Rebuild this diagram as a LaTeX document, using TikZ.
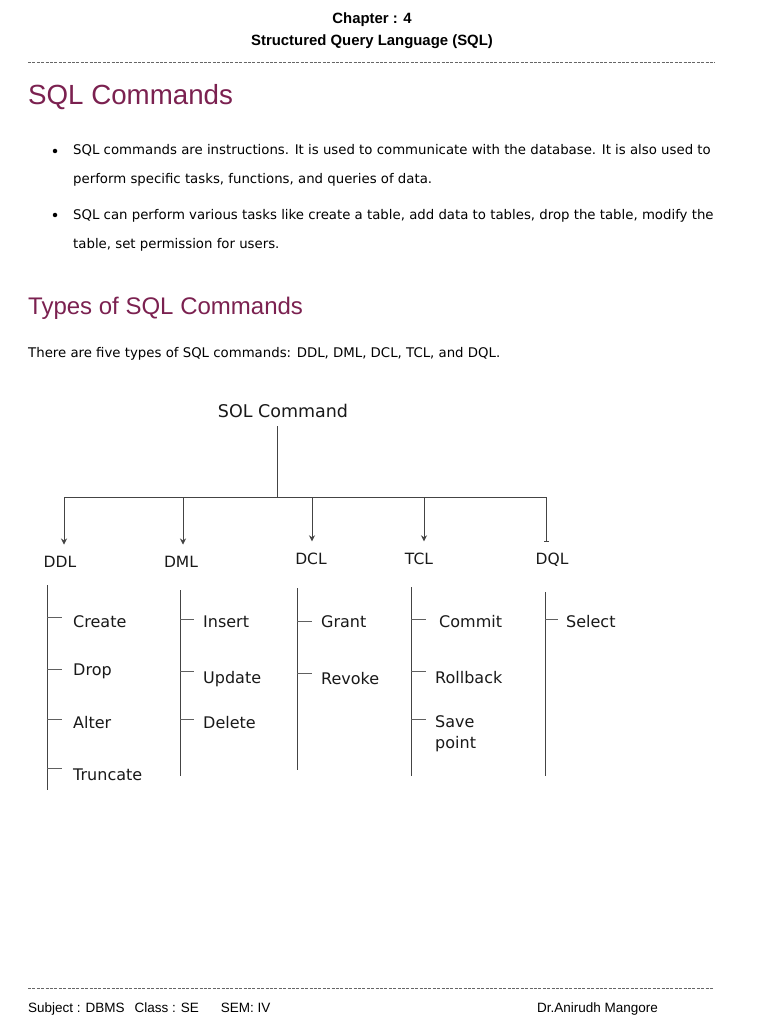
\documentclass[tikz,border=0pt]{standalone}
\usepackage{fontspec}
\setmainfont{DejaVu Sans}
\newfontfamily\headfont{Liberation Sans}
\usetikzlibrary{arrows.meta}
\definecolor{Maroon}{HTML}{7B2150}
\definecolor{RuleGray}{HTML}{666666}
\definecolor{TreeInk}{HTML}{444444}
\tikzset{
  headtext/.style={anchor=base,inner sep=0pt,font=\headfont\fontsize{14.9}{17}\selectfont\bfseries},
  titletext/.style={anchor=base west,inner sep=0pt,text=Maroon,font=\headfont\fontsize{27.7}{32}\selectfont},
  subtitletext/.style={anchor=base west,inner sep=0pt,text=Maroon,font=\headfont\fontsize{24}{28}\selectfont},
  bodytext/.style={anchor=base west,inner sep=0pt,text=black,font=\fontsize{13.3}{16}\selectfont},
  foottext/.style={anchor=base west,inner sep=0pt,font=\headfont\fontsize{13.5}{16}\selectfont},
  roottext/.style={anchor=base,inner sep=0pt,text=black!90,font=\fontsize{17.5}{20}\selectfont},
  treetext/.style={anchor=base,inner sep=0pt,text=black!90,font=\fontsize{15.5}{18}\selectfont},
  itemtext/.style={anchor=base west,inner sep=0pt,text=black!90,align=left,font=\fontsize{16}{21}\selectfont},
  ruleline/.style={line width=0.6pt,draw=RuleGray,dash pattern=on 3pt off 1.4pt},
  treeline/.style={line width=0.9pt,draw=TreeInk},
  tickline/.style={line width=0.9pt,draw=TreeInk!85},
  treearrow/.style={-{Stealth[length=6pt,width=6pt]},line width=0.8pt,draw=TreeInk,shorten >=11pt},
  treetee/.style={-{Bar[width=5pt]},line width=0.8pt,draw=TreeInk,shorten >=11pt},
  bulletdot/.style={circle,fill=black,inner sep=0pt,minimum size=4.5pt},
}

\begin{document}
\begin{tikzpicture}[x=1pt,y=-1pt]
    \useasboundingbox[fill=white] (0,0) rectangle (768,1024);

    % page header
    \node[headtext] (chap) at (372,24) {Chapter : 4};
    \node[headtext] (chaptitle) at (372,46) {Structured Query Language (SQL)};
    \coordinate (ruleA) at (28,62);
    \coordinate (ruleB) at (715,62);
    \draw[ruleline] (ruleA) -- (ruleB);

    % text part
    \node[titletext] (head) at (28,105) {SQL Commands};
    \node[bulletdot] (dotA) at (55,151) {};
    \node[bodytext] (lineA) at (73,155) {SQL commands are instructions. It is used to communicate with the database. It is also used to};
    \node[bodytext] (lineB) at (73,184) {perform specific tasks, functions, and queries of data.};
    \node[bulletdot] (dotB) at (55,215) {};
    \node[bodytext] (lineC) at (73,219) {SQL can perform various tasks like create a table, add data to tables, drop the table, modify the};
    \node[bodytext] (lineD) at (73,248) {table, set permission for users.};
    \node[subtitletext] (types) at (28,314) {Types of SQL Commands};
    \node[bodytext] (five) at (28,357) {There are five types of SQL commands: DDL, DML, DCL, TCL, and DQL.};

    % tree
    \node[roottext] (root) at (283,417) {SOL Command};
    \coordinate (hub) at (277,497);
    \coordinate (ddlTop) at (64,497);
    \coordinate (dmlTop) at (183,497);
    \coordinate (dclTop) at (312,497);
    \coordinate (tclTop) at (424,497);
    \coordinate (dqlTop) at (546,497);
    \draw[treeline] ([yshift=-9pt]root.south -| hub) -- (hub);
    \draw[treeline] (ddlTop) -- (dqlTop);

    \node[treetext] (ddl) at (60,567) {DDL};
    \node[treetext] (dml) at (181,567) {DML};
    \node[treetext] (dcl) at (311,564) {DCL};
    \node[treetext] (tcl) at (419,564) {TCL};
    \node[treetext] (dql) at (552,564) {DQL};
    \draw[treearrow] (ddlTop) -- (ddlTop |- ddl.north);
    \draw[treearrow] (dmlTop) -- (dmlTop |- dml.north);
    \draw[treearrow] (dclTop) -- (dclTop |- dcl.north);
    \draw[treearrow] (tclTop) -- (tclTop |- tcl.north);
    \draw[treetee] (dqlTop) -- (dqlTop |- dql.north);

    % DDL
    \node[itemtext] (create) at (73,627) {Create};
    \node[itemtext] (drop) at (73,675) {Drop};
    \node[itemtext] (alter) at (73,728) {Alter};
    \node[itemtext] (truncate) at (73,780) {Truncate};
    \draw[treeline] (47,585) -- (47,790);
    \foreach \ty in {617,669,719,768} \draw[tickline] (47,\ty) -- ++(15,0);

    % DML
    \node[itemtext] (insert) at (203,627) {Insert};
    \node[itemtext] (update) at (203,683) {Update};
    \node[itemtext] (delete) at (203,728) {Delete};
    \draw[treeline] (180,590) -- (180,776);
    \foreach \ty in {619,671,719} \draw[tickline] (180,\ty) -- ++(14,0);

    % DCL
    \node[itemtext] (grant) at (321,627) {Grant};
    \node[itemtext] (revoke) at (321,684) {Revoke};
    \draw[treeline] (297,588) -- (297,770);
    \foreach \ty in {621,673} \draw[tickline] (297,\ty) -- ++(15,0);

    % TCL
    \node[itemtext] (commit) at (439,627) {Commit};
    \node[itemtext] (rollback) at (435,683) {Rollback};
    \node[itemtext] (savepoint) at (435,748) {Save\\point};
    \draw[treeline] (411,587) -- (411,776);
    \foreach \ty in {619,671,719} \draw[tickline] (411,\ty) -- ++(15,0);

    % DQL
    \node[itemtext] (select) at (566,627) {Select};
    \draw[treeline] (545,592) -- (545,776);
    \draw[tickline] (545,619) -- ++(13,0);

    % page footer
    \coordinate (footA) at (28,988);
    \coordinate (footB) at (713,988);
    \draw[ruleline] (footA) -- (footB);
    \node[foottext] (subject) at (28,1012) {Subject : DBMS\hspace{10pt}Class : SE\hspace{22pt}SEM: IV};
    \node[foottext] (author) at (537,1012) {Dr.Anirudh Mangore};
  \end{tikzpicture}
\end{document}
